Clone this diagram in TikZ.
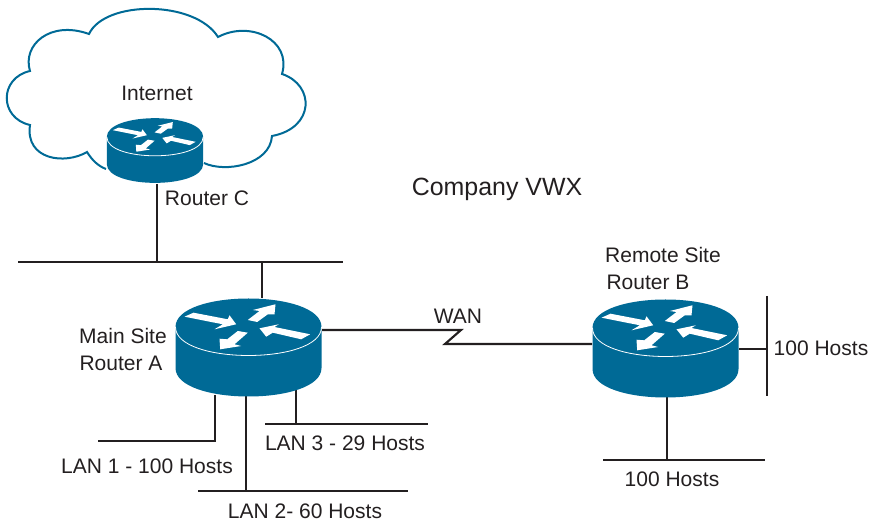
\documentclass[tikz,border=0pt]{standalone}
\usepackage{fontspec}
\setmainfont{Liberation Sans}
\usetikzlibrary{calc,positioning}
\definecolor{routerblue}{HTML}{006A96}
\definecolor{wire}{HTML}{231F20}
\newcommand{\router}[2][1]
	{
	\begin{scope}[shift={(#2)},scale=#1]
	\fill[routerblue] (-73,0) -- (-73,41) .. controls (-73,79) and (73,79) .. (73,41) -- (73,0) .. controls (73,-38) and (-73,-38) .. cycle;
	\draw[white,line width=.6pt] (-73,0) .. controls (-73,38) and (73,38) .. (73,0);
	\fill[white] (-64,-10.3) -- (-55,-14.3) -- (-20.7,-7.7) -- (-19,-11.7) -- (-12.3,-2.7) -- (-34,2.3) -- (-25.7,-2.7) -- cycle;
	\fill[white] (-.7,-7) -- (11,-16) -- (4.3,-17) -- (27,-22.7) -- (26,-12.7) -- (19.3,-12.7) -- (8.7,-5) -- cycle;
	\fill[white] (11,1.3) -- (30.3,-2.7) -- (26,0) -- (61.7,7.3) -- (52.7,12.3) -- (24.3,5.7) -- (17.7,9.7) -- cycle;
	\fill[white] (-10.7,4) -- (-.7,5.7) -- (-14,17.3) -- (-7.3,19) -- (-28.3,22.3) -- (-29,11.7) -- (-21.3,12.3) -- cycle;
	\end{scope}
	}
\tikzset{
	txt/.style={inner sep=0pt,text=wire,font=\fontsize{15.75}{18}\selectfont},
	bus/.style={draw=wire,line width=1.6pt},
	cloudline/.style={draw=routerblue,line width=1.5pt,line join=miter}
}

\begin{document}
\begin{tikzpicture}[x=.75pt,y=-.75pt]
    \useasboundingbox (0,0) rectangle (871,523);
    % cloud
    \draw[cloudline] (106,169) .. controls (98,166) and (92,160) .. (87,152)
        .. controls (65,165) and (25,160) .. (30,125)
        .. controls (-1,118) and (-1,78) .. (30,71)
        .. controls (22,45) and (50,20) .. (89,34)
        .. controls (105,0) and (195,0) .. (218,37)
        .. controls (250,20) and (292,40) .. (282,74)
        .. controls (315,85) and (315,128) .. (272,136)
        .. controls (270,165) and (225,173) .. (204,163);

    \coordinate (A) at (248.5,327);
    \coordinate (B) at (665.5,328);
    \coordinate (C) at (155,137);

    % bus ends
    \coordinate (topL) at (18,262);
    \coordinate (topR) at (343,262);
    \coordinate (topC) at (157,262);
    \coordinate (topA) at (262,262);
    \coordinate (C1) at (157,184);
    \coordinate (A1) at (262,298);
    \draw[bus] (topL) -- (topR);
    \draw[bus] (C1) -- (topC);
    \draw[bus] (A1) -- (topA);

    % WAN
    \coordinate (A2) at (322,330);
    \coordinate (W1) at (461,330);
    \coordinate (W2) at (445,344);
    \coordinate (B1) at (592,344);
    \draw[bus,line join=miter] (A2) -- (W1) -- (W2) -- (B1);

    % LANs
    \coordinate (L1a) at (215,395);
    \coordinate (L1b) at (215,441);
    \coordinate (L1c) at (98,441);
    \draw[bus] (L1a) -- (L1b) -- (L1c);
    \coordinate (L2a) at (246,396);
    \coordinate (L2b) at (246,491);
    \coordinate (L2c) at (198,491);
    \coordinate (L2d) at (408,491);
    \draw[bus] (L2a) -- (L2b);
    \draw[bus] (L2c) -- (L2d);
    \coordinate (L3a) at (296,390);
    \coordinate (L3b) at (296,424);
    \coordinate (L3c) at (265,424);
    \coordinate (L3d) at (428,424);
    \draw[bus] (L3a) -- (L3b);
    \draw[bus] (L3c) -- (L3d);

    % Router B hosts
    \coordinate (B2) at (739,349);
    \coordinate (H1) at (767,349);
    \coordinate (H1a) at (767,296);
    \coordinate (H1b) at (767,396);
    \draw[bus] (B2) -- (H1);
    \draw[bus] (H1a) -- (H1b);
    \coordinate (B3) at (667,397);
    \coordinate (H2) at (667,460);
    \coordinate (H2a) at (603,460);
    \coordinate (H2b) at (765,460);
    \draw[bus] (B3) -- (H2);
    \draw[bus] (H2a) -- (H2b);

    \router{A}
    \router{B}
    \router[.66]{C}

    \node[txt] (inet) at (157,93) {Internet};
    \node[txt] (rc) at (207,198) {Router C};
    \node[txt,font=\fontsize{18.7}{22}\selectfont] (company) at (497,189) {Company VWX};
    \node[txt] (main) at (123,336) {Main Site};
    \node[txt] (ra) at (121,363) {Router A};
    \node[txt] (remote) at (663,255) {Remote Site};
    \node[txt] (rb) at (648,282) {Router B};
    \node[txt] (wan) at (458,316) {WAN};
    \node[txt] (h1) at (821,348) {100 Hosts};
    \node[txt] (h2) at (672,479) {100 Hosts};
    \node[txt] (lan1) at (147,466) {LAN 1 - 100 Hosts};
    \node[txt] (lan2) at (305,511) {LAN 2- 60 Hosts};
    \node[txt] (lan3) at (345,443) {LAN 3 - 29 Hosts};
\end{tikzpicture}
\end{document}
